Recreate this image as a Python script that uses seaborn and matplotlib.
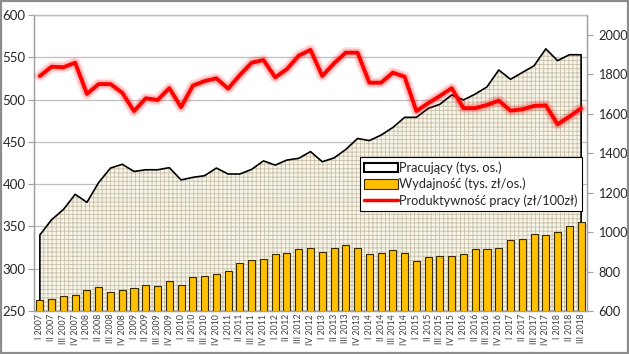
import numpy as np
import pandas as pd
import matplotlib
matplotlib.use("Agg")
import matplotlib.pyplot as plt
import seaborn as sns
from matplotlib.patches import Patch, Rectangle
from matplotlib.lines import Line2D

# ---- data ----
roman = ["I", "II", "III", "IV"]
quarters = [f"{r} {y}" for y in range(2007, 2019) for r in roman][:47]

pracujacy = [340, 358, 370, 388, 378.5, 402, 419, 423.5, 415, 417, 417, 419.5,
             405, 408, 410, 419, 412, 412, 417.5, 427.5, 422.5, 428.5, 430.5, 438.5,
             426.5, 431, 441, 454, 451.5, 458, 467, 479, 479, 489.5, 494.5, 505.5,
             499.5, 506.5, 515, 535, 524, 532, 540, 560, 546, 553, 553]

wydajnosc = [263, 264, 267.5, 268.5, 275, 278, 272, 275, 277, 280.5, 279.5, 286,
             280.5, 290.5, 291.5, 293.5, 297.5, 306.5, 310, 312, 317, 318, 323.5, 324.5,
             320, 325, 328.5, 325, 317.5, 318, 322, 318, 309, 314, 315, 315.5,
             317.5, 323, 323, 325, 334, 335, 340.5, 339.5, 343, 350.5, 355]

produktywnosc = [1791, 1838, 1835, 1858, 1700, 1750, 1750, 1706, 1613, 1678, 1669, 1729,
                 1633, 1742, 1765, 1779, 1727, 1796, 1858, 1872, 1784, 1826, 1894, 1923,
                 1791, 1855, 1909, 1909, 1757, 1757, 1808, 1787, 1613, 1653, 1690, 1729,
                 1628, 1628, 1644, 1666, 1615, 1622, 1639, 1642, 1546, 1585, 1627]

left_ticks = [250, 300, 350, 400, 450, 500, 550, 600]
right_ticks = [600, 800, 1000, 1200, 1400, 1600, 1800, 2000]

df = pd.DataFrame({"kw": quarters, "prac": pracujacy, "wyd": wydajnosc, "prod": produktywnosc})
df["pos"] = np.arange(len(df))

# ---- style ----
sns.set_style("white")
plt.rcParams["font.family"] = ["Lato", "DejaVu Sans"]
plt.rcParams["hatch.linewidth"] = 0.6

fig = plt.figure(figsize=(6.29, 3.54), dpi=100)
ax = fig.add_axes([34/629, 1-311/354, (587-34)/629, (311-15)/354])
ax2 = ax.twinx()

# gridlines
for t in left_ticks[1:]:
    ax.axhline(t, color="#bfbfbf", lw=0.9, zorder=0)

# area (Pracujący)
x = df["pos"].values
ax.fill_between(x, 250, df["prac"].values, facecolor="#f7f5ea", edgecolor="#c9c0a8",
                hatch="++++", lw=0, zorder=1)
ax.plot(np.r_[x[0], x, x[-1]], np.r_[250, df["prac"].values, 250], color="black", lw=1.2, zorder=2)

# bars (Wydajność)
sns.barplot(data=df, x="pos", y="wyd", ax=ax, color="#FFC000", width=0.6,
            edgecolor="#3a2c00", linewidth=0.8, saturation=1, zorder=3, native_scale=False)

# red line (Produktywność) on right axis with glow
ax2.plot(x, df["prod"].values, color="#ff0000", lw=8, alpha=0.12, solid_joinstyle="round", zorder=4)
ax2.plot(x, df["prod"].values, color="#ff0000", lw=5.5, alpha=0.18, solid_joinstyle="round", zorder=4)
sns.lineplot(x=x, y=df["prod"].values, ax=ax2, color="#ff0000", lw=2.8, zorder=5)

ax.set_xlim(-0.5, len(df)-0.5)
ax.set_ylim(250, 600)
ax2.set_ylim(600, 2100)
ax.set_yticks(left_ticks)
ax2.set_yticks(right_ticks)
ax.set_xticks(x)
ax.set_xticklabels(quarters, rotation=90, fontsize=6.3, color="#404040")
ax.set_xlabel("")
ax.set_ylabel("")
ax2.set_ylabel("")
ax.tick_params(axis="y", labelsize=9.5, colors="#404040", length=4, color="#a0a0a0", pad=2)
ax2.tick_params(axis="y", labelsize=9.2, colors="#404040", length=4, color="#a0a0a0", pad=4)
ax.tick_params(axis="x", length=0, pad=2)
for a in (ax, ax2):
    for s in a.spines.values():
        s.set_color("#a0a0a0")
        s.set_linewidth(0.9)
    a.spines["top"].set_color("#bfbfbf")
for lab in ax.get_yticklabels() + ax2.get_yticklabels():
    lab.set_color("#262626")

# legend
handles = [Patch(facecolor="white", edgecolor="black", lw=1.5),
           Patch(facecolor="#FFC000", edgecolor="#3a2c00", lw=0.8),
           Line2D([0], [0], color="#ff0000", lw=2.5)]
labels = ["Pracujący (tys. os.)", "Wydajność (tys. zł/os.)", "Produktywność pracy (zł/100zł)"]
leg = ax2.legend(handles, labels, loc="upper left", bbox_to_anchor=((360-34)/553, (311-157)/296),
                 fontsize=9.2, frameon=True, fancybox=False, framealpha=1, edgecolor="black",
                 borderpad=0.35, labelspacing=0.3, handlelength=2.6, handleheight=0.8,
                 handletextpad=0.1, borderaxespad=0)
leg.get_frame().set_linewidth(0.8)
leg.set_zorder(10)

# outer border
fig.patches.append(Rectangle((0.0015, 0.003), 0.997, 0.994, transform=fig.transFigure,
                             fill=False, edgecolor="#8c8c8c", lw=1.6))

fig.savefig("out.png", dpi=100)
